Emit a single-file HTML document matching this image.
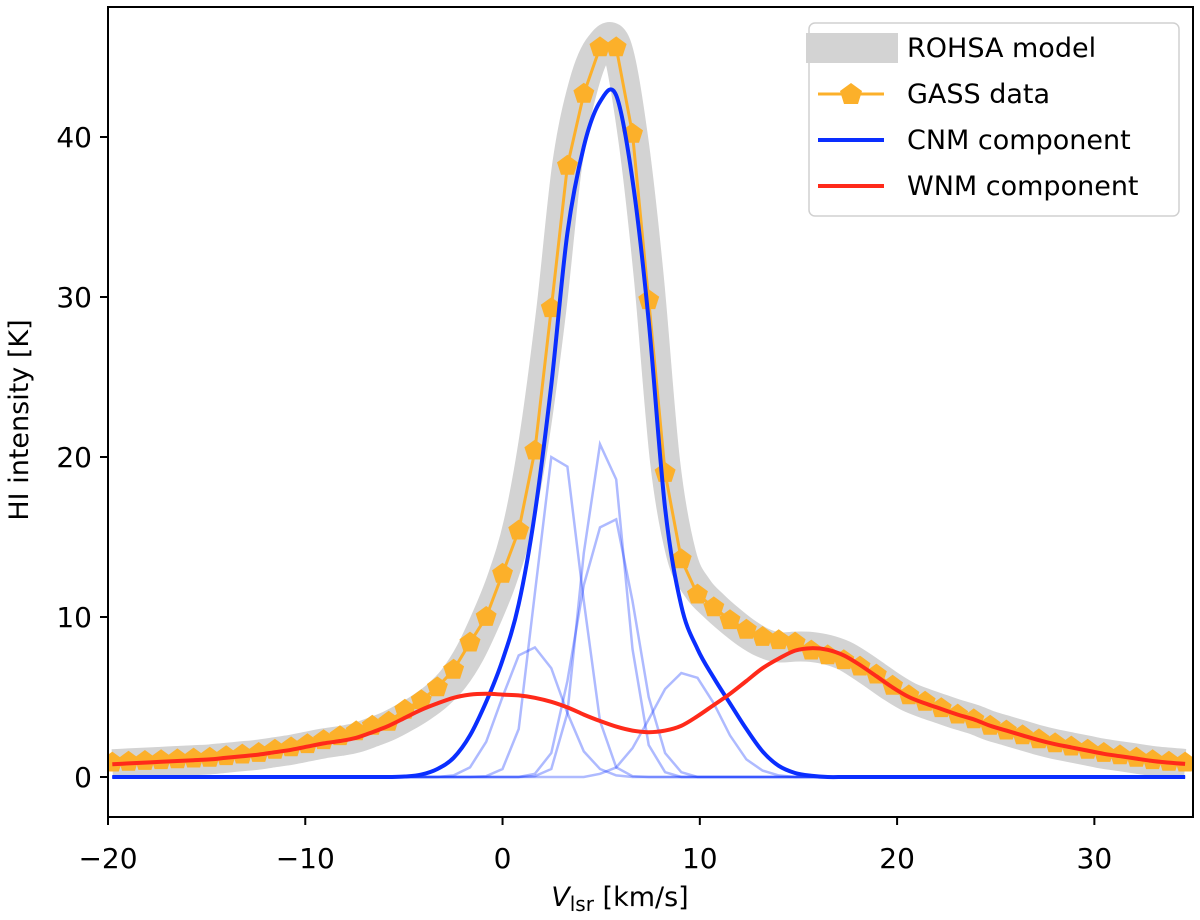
<!DOCTYPE html>
<html><head><meta charset="utf-8"><style>
html,body{margin:0;padding:0;background:#fff;}
svg{display:block;font-family:"DejaVu Sans","Liberation Sans",sans-serif;}
</style></head><body>
<svg id="chart" width="1200" height="920" viewBox="0 0 1200 920" xmlns="http://www.w3.org/2000/svg">
<defs><clipPath id="plotclip"><rect x="108" y="7" width="1085" height="810"/></clipPath></defs>
<g id="marks" clip-path="url(#plotclip)"></g>
<g id="axes"></g>
<g id="legend">
  <rect x="809" y="23" width="370" height="193" rx="6" fill="#fff" fill-opacity="0.85" stroke="#d0d0d0" stroke-width="1.5"/>
  <rect x="806" y="33" width="92" height="30" fill="#d3d3d3"/>
  <text x="907" y="57" font-size="27">ROHSA model</text>
  <line x1="818" y1="94" x2="884" y2="94" stroke="#fcb02a" stroke-width="3"/>
  <polygon points="851,83 862,91 858,104 844,104 840,91" fill="#fcb02a"/>
  <text x="907" y="103" font-size="27">GASS data</text>
  <line x1="818" y1="140" x2="884" y2="140" stroke="#0a2eff" stroke-width="4"/>
  <text x="907" y="149" font-size="27">CNM component</text>
  <line x1="818" y1="186" x2="884" y2="186" stroke="#ff2a1a" stroke-width="4"/>
  <text x="907" y="195" font-size="27">WNM component</text>
</g>
</svg>
<script>
const velocity = [-19.78,-18.96,-18.13,-17.31,-16.48,-15.66,-14.84,-14.01,-13.19,-12.36,-11.54,-10.72,-9.89,-9.07,-8.24,-7.42,-6.60,-5.77,-4.95,-4.12,-3.30,-2.48,-1.65,-0.83,0.00,0.82,1.64,2.47,3.29,4.12,4.94,5.76,6.59,7.41,8.24,9.06,9.88,10.71,11.53,12.36,13.18,14.00,14.83,15.65,16.48,17.30,18.12,18.95,19.77,20.60,21.42,22.24,23.07,23.89,24.72,25.54,26.36,27.19,28.01,28.83,29.66,30.48,31.30,32.13,32.95,33.78,34.60];
const gassData = [0.9,0.95,1.0,1.05,1.1,1.15,1.2,1.3,1.4,1.5,1.7,1.85,2.05,2.3,2.55,2.85,3.2,3.45,4.2,4.8,5.6,6.7,8.4,10.0,12.7,15.4,20.4,29.3,38.2,42.7,45.6,45.6,40.2,29.8,19.0,13.6,11.4,10.6,9.8,9.2,8.75,8.55,8.4,7.9,7.6,7.3,6.9,6.4,5.7,5.1,4.7,4.3,3.9,3.6,3.2,2.9,2.6,2.35,2.1,1.9,1.7,1.5,1.35,1.2,1.05,0.95,0.9];
const cnmTotal = [0,0,0,0,0,0,0,0,0,0,0,0,0,0,0,0,0,0,0.03,0.15,0.5,1.2,2.6,4.7,7.3,10.8,16.5,24.5,34.0,39.4,42.2,42.6,37.3,28.5,16.8,10.7,8.0,6.2,4.6,3.0,1.6,0.7,0.25,0.08,0,0,0,0,0,0,0,0,0,0,0,0,0,0,0,0,0,0,0,0,0,0,0];
const wnmTotal = [0.8,0.85,0.9,0.95,1.0,1.05,1.1,1.2,1.3,1.4,1.55,1.7,1.9,2.1,2.25,2.45,2.8,3.2,3.7,4.2,4.6,4.95,5.15,5.2,5.15,5.1,4.95,4.7,4.35,3.9,3.5,3.15,2.9,2.8,2.9,3.2,3.8,4.5,5.2,6.0,6.8,7.4,7.9,8.05,7.95,7.6,7.0,6.3,5.6,5.0,4.6,4.25,3.9,3.6,3.2,2.9,2.6,2.3,2.05,1.85,1.65,1.45,1.3,1.15,1.0,0.9,0.82];
function z(n){return new Array(n).fill(0);}
const comp1 = [...z(23),0.05,0.5,3.0,11.5,20.0,19.4,11.0,3.5,0.6,0.05,...z(34)];
const comp2 = [...z(26),0.05,0.5,4,14,20.8,18.6,8,2,0.3,...z(32)];
const comp3 = [...z(26),0.2,1.5,6,12,15.6,16.1,11,5,1.5,0.3,...z(31)];
const comp4 = [...z(21),0.1,0.6,2.2,5.0,7.6,8.1,6.8,4.0,1.6,0.5,0.1,...z(35)];
const comp5 = [...z(30),0.2,0.6,1.8,3.6,5.5,6.5,6.2,4.6,2.6,1.1,0.4,0.1,...z(25)];
const xTicks = [-20,-10,0,10,20,30];
const yTicks = [0,10,20,30,40];

const X0=108,X1=1193,Y0=817,Y1=7, XMIN=-20,XMAX=35,YMIN=-2.5,YMAX=48.125;
function xs(v){return X0+(v-XMIN)/(XMAX-XMIN)*(X1-X0);}
function ys(v){return Y0-(v-YMIN)/(YMAX-YMIN)*(Y0-Y1);}
const NS="http://www.w3.org/2000/svg";
const marks=document.getElementById('marks');
const axes=document.getElementById('axes');
function mk(tag,attrs,parent){const e=document.createElementNS(NS,tag);for(const k in attrs)e.setAttribute(k,attrs[k]);parent.appendChild(e);return e;}
function pts(arr){return arr.map((v,i)=>xs(velocity[i]).toFixed(1)+','+ys(v).toFixed(1)).join(' ');}
function smoothPath(arr){
  const P=arr.map((v,i)=>[xs(velocity[i]),ys(v)]);
  let d='M'+P[0][0].toFixed(1)+','+P[0][1].toFixed(1);
  for(let i=0;i<P.length-1;i++){
    const p0=P[Math.max(0,i-1)],p1=P[i],p2=P[i+1],p3=P[Math.min(P.length-1,i+2)];
    const c1=[p1[0]+(p2[0]-p0[0])/6,p1[1]+(p2[1]-p0[1])/6];
    const c2=[p2[0]-(p3[0]-p1[0])/6,p2[1]-(p3[1]-p1[1])/6];
    d+=' C'+c1[0].toFixed(1)+','+c1[1].toFixed(1)+' '+c2[0].toFixed(1)+','+c2[1].toFixed(1)+' '+p2[0].toFixed(1)+','+p2[1].toFixed(1);
  }
  return d;
}

const model = cnmTotal.map((v,i)=>v+wnmTotal[i]);
let e=mk('path',{d:smoothPath(model),fill:'none',stroke:'#d3d3d3','stroke-width':30,'stroke-linejoin':'round'},marks);



e=mk('polyline',{points:pts(gassData),fill:'none',stroke:'#fcb02a','stroke-width':3},marks);


gassData.forEach((v,i)=>{
  const cx=xs(velocity[i]),cy=ys(v),r=11;let p=[];
  for(let k=0;k<5;k++){const a=-Math.PI/2+k*2*Math.PI/5;p.push((cx+r*Math.cos(a)).toFixed(1)+','+(cy+r*Math.sin(a)).toFixed(1));}
  const m=mk('polygon',{points:p.join(' '),fill:'#fcb02a'},marks);
  
  
});
[comp1,comp2,comp3,comp4,comp5].forEach((c,j)=>{
  const l=mk('polyline',{points:pts(c),fill:'none',stroke:'#0a2eff','stroke-opacity':0.33,'stroke-width':2.5},marks);
  
  
});
e=mk('path',{d:smoothPath(cnmTotal),fill:'none',stroke:'#0a2eff','stroke-width':4,'stroke-linejoin':'round'},marks);


e=mk('path',{d:smoothPath(wnmTotal),fill:'none',stroke:'#ff2a1a','stroke-width':4,'stroke-linejoin':'round'},marks);



e=mk('rect',{x:X0,y:Y1,width:X1-X0,height:Y0-Y1,fill:'none',stroke:'#000','stroke-width':2},axes);


xTicks.forEach(t=>{
  const x=xs(t);
  const l=mk('line',{x1:x,y1:Y0,x2:x,y2:Y0+8,stroke:'#000','stroke-width':2},axes);
  
  
  const tx=mk('text',{x:x,y:Y0+51,'font-size':28,'text-anchor':'middle'},axes);
  tx.textContent=(t<0?'\u2212'+(-t):String(t));
  
  
});
yTicks.forEach(t=>{
  const y=ys(t);
  const l=mk('line',{x1:X0-8,y1:y,x2:X0,y2:y,stroke:'#000','stroke-width':2},axes);
  
  
  const tx=mk('text',{x:X0-16,y:y+10,'font-size':28,'text-anchor':'end'},axes);
  tx.textContent=String(t);
  
  
});
e=mk('text',{x:620,y:906,'font-size':27,'text-anchor':'middle'},axes);
e.innerHTML='<tspan font-style="italic">V</tspan><tspan font-size="20" dy="5">lsr</tspan><tspan dy="-5"> [km/s]</tspan>';


e=mk('text',{x:0,y:0,'font-size':27,'text-anchor':'middle',transform:'translate(28,420) rotate(-90)'},axes);
e.textContent='HI intensity [K]';


</script>
</body></html>
